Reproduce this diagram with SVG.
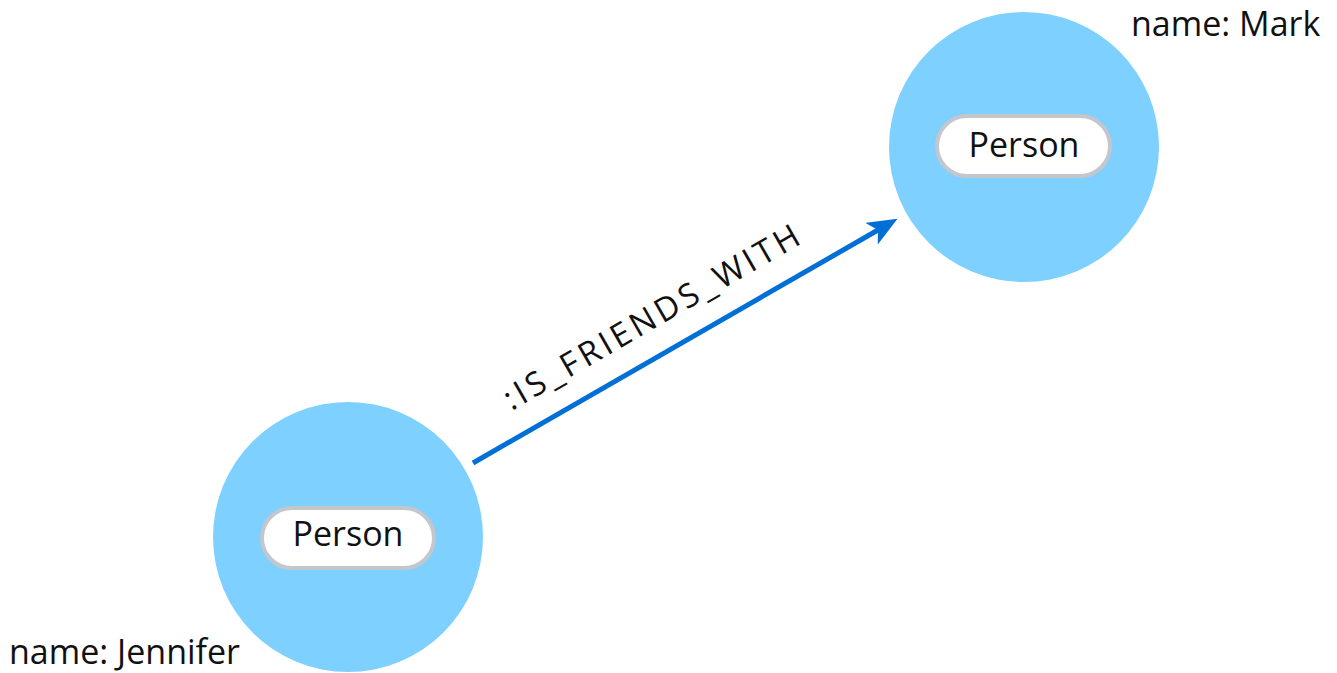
<svg xmlns="http://www.w3.org/2000/svg" width="1337" height="673" viewBox="0 0 1337 673">
  <style>
    .node { fill: #7dd0ff; }
    .pill { fill: #ffffff; stroke: #c3c7cd; stroke-width: 4; }
    .txt { font-family: "Open Sans", "Noto Sans", "Liberation Sans", sans-serif; fill: #111111; }
    .lbl { font-size: 34px; text-anchor: middle; }
    .prop { font-size: 34px; }
    .rel { stroke: #0070d6; stroke-width: 5; fill: none; }
  </style>
  <defs>
    <marker id="arrow" viewBox="0 0 12 10" refX="3" refY="5" markerWidth="6" markerHeight="5" markerUnits="strokeWidth" orient="auto">
      <path d="M0,0 L12,5 L0,10 L3,5 z" fill="#0070d6"/>
    </marker>
  </defs>
  <rect width="1337" height="673" fill="#ffffff"/>

  <g id="connectors">
    <line class="rel" x1="473" y1="463" x2="878" y2="230" marker-end="url(#arrow)"/>
    <text class="txt" font-size="33" text-anchor="middle" textLength="336" lengthAdjust="spacing" transform="translate(657,327) rotate(-30)">:IS_FRIENDS_WITH</text>
  </g>

  <g id="node-mark">
    <circle class="node" cx="1024" cy="147" r="135"/>
    <rect class="pill" x="937" y="116" width="173" height="60" rx="30"/>
    <text class="txt lbl" x="1024" y="157">Person</text>
    <text class="txt prop" x="1131" y="36">name: Mark</text>
  </g>

  <g id="node-jennifer">
    <circle class="node" cx="348" cy="537" r="135"/>
    <rect class="pill" x="262" y="508" width="172" height="60" rx="30"/>
    <text class="txt lbl" x="348" y="546">Person</text>
    <text class="txt prop" x="9" y="664">name: Jennifer</text>
  </g>
</svg>
